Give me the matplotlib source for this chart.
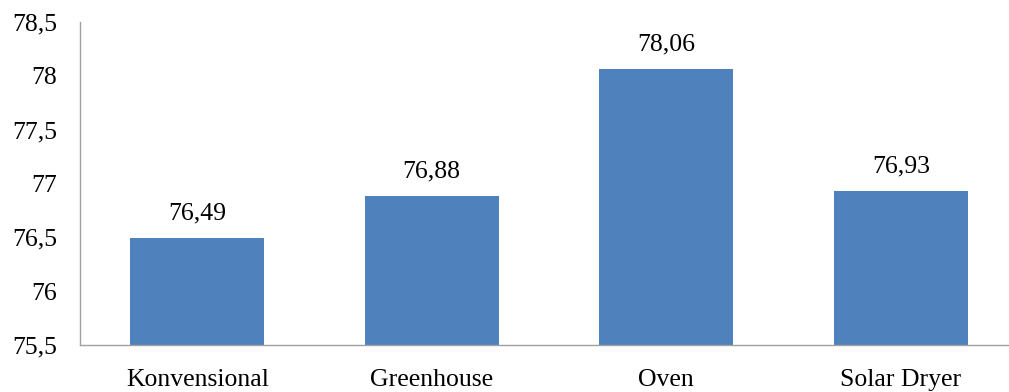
import matplotlib
matplotlib.use("Agg")
import matplotlib.pyplot as plt
from matplotlib.ticker import FuncFormatter

categories = ["Konvensional", "Greenhouse", "Oven", "Solar Dryer"]
values = [76.49, 76.88, 78.06, 76.93]
yticks = [75.5, 76, 76.5, 77, 77.5, 78, 78.5]

plt.rcParams['font.family'] = ['Liberation Serif', 'DejaVu Serif']

fig = plt.figure(figsize=(10.09, 3.92), dpi=100)
ax = fig.add_axes([80/1009, 1 - 345/392, 1 - 80/1009, (345 - 22)/392])

x = list(range(len(categories)))
bars = ax.bar(x, values, width=0.57, color="#4F81BD", bottom=0)
ax.set_ylim(75.5, 78.5)
ax.set_xlim(-0.5, 3.5 - 9/234.5)
ax.set_yticks(yticks)
ax.yaxis.set_major_formatter(FuncFormatter(lambda v, p: (f"{v:g}").replace(".", ",")))
ax.set_xticks(x)
ax.set_xticklabels(categories)

for xi, v in zip(x, values):
    ax.annotate(f"{v:.2f}".replace(".", ","), (xi, v), xytext=(0, 10),
                textcoords="offset points", ha="center", va="bottom", fontsize=18.5)

ax.tick_params(axis="both", length=0, labelsize=18.5)
ax.tick_params(axis="y", pad=16.5)
ax.tick_params(axis="x", pad=17)
for s in ["top", "right"]:
    ax.spines[s].set_visible(False)
for s in ["left", "bottom"]:
    ax.spines[s].set_color("#A0A0A0")
    ax.spines[s].set_linewidth(1.0)

fig.savefig("out.png", dpi=100)
